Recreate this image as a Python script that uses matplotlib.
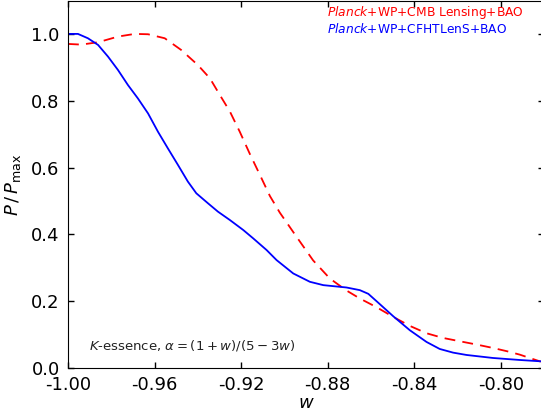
import numpy as np
import matplotlib
matplotlib.use('Agg')
import matplotlib.pyplot as plt

# values
w_lens = [-1.000, -0.9939, -0.9861, -0.9769, -0.9692, -0.9630, -0.9553, -0.9477,
          -0.9400, -0.9344, -0.9298, -0.9252, -0.9206, -0.9159, -0.9113, -0.9067,
          -0.9021, -0.8944, -0.8867, -0.8790, -0.8713, -0.8651, -0.8574, -0.8497,
          -0.8420, -0.8343, -0.8267, -0.8189, -0.8110, -0.8036, -0.7970, -0.7912,
          -0.7815]
p_lens = [0.970, 0.968, 0.975, 0.992, 1.000, 0.999, 0.987, 0.952,
          0.907, 0.867, 0.817, 0.768, 0.707, 0.640, 0.578, 0.515,
          0.465, 0.393, 0.322, 0.268, 0.232, 0.208, 0.182, 0.153,
          0.126, 0.104, 0.090, 0.080, 0.070, 0.060, 0.050, 0.040,
          0.019]

w_cfht = [-1.000, -0.9954, -0.9908, -0.9861, -0.9815, -0.9769, -0.9723, -0.9677,
          -0.9630, -0.9584, -0.9538, -0.9492, -0.9446, -0.9407, -0.9353, -0.9307,
          -0.9252, -0.9190, -0.9144, -0.9082, -0.9036, -0.8959, -0.8882, -0.8820,
          -0.8713, -0.8651, -0.8612, -0.8574, -0.8497, -0.8420, -0.8343, -0.8282,
          -0.8220, -0.8158, -0.8036, -0.7912, -0.7815]
p_cfht = [1.000, 1.000, 0.987, 0.967, 0.932, 0.892, 0.847, 0.807,
          0.762, 0.707, 0.657, 0.608, 0.558, 0.523, 0.493, 0.468,
          0.443, 0.413, 0.388, 0.353, 0.323, 0.283, 0.258, 0.248,
          0.241, 0.233, 0.222, 0.200, 0.155, 0.113, 0.078, 0.057,
          0.046, 0.039, 0.030, 0.024, 0.020]

xticks = [-1.00, -0.96, -0.92, -0.88, -0.84, -0.80]
yticks = [0.0, 0.2, 0.4, 0.6, 0.8, 1.0]

lab_lens = r'$Planck$+WP+CMB Lensing+BAO'
lab_cfht = r'$Planck$+WP+CFHTLenS+BAO'

plt.rcParams['mathtext.fontset'] = 'dejavusans'

fig = plt.figure(figsize=(5.41, 4.12), dpi=100)
ax = fig.add_axes([68/541, 44/412, 476/541, 367.5/412])

ax.plot(w_lens, p_lens, color='red', ls=(0, (6, 4)), lw=1.3, label=lab_lens)
ax.plot(w_cfht, p_cfht, color='blue', ls='-', lw=1.3, label=lab_cfht)

ax.set_xlim(-1.0, -0.78)
ax.set_ylim(0, 1.1)
ax.set_xticks(xticks)
ax.set_xticklabels(['%.2f' % t for t in xticks])
ax.set_yticks(yticks)
ax.set_yticklabels(['%.1f' % t for t in yticks])
ax.tick_params(direction='in', top=True, right=True, length=4, width=1,
               labelsize=13, pad=6)

ax.set_xlabel(r'$w$', fontsize=13, labelpad=0)
ax.set_ylabel(r'$P\,/\,P_{\rm max}$', fontsize=13, labelpad=6)

leg = ax.legend(loc='upper right', frameon=False, handlelength=0, handletextpad=0,
                fontsize=8.8, borderaxespad=0.0, labelspacing=0.08,
                bbox_to_anchor=(0.968, 1.003))
for h in leg.legend_handles:
    h.set_visible(False)
for t, c in zip(leg.get_texts(), ['red', 'blue']):
    t.set_color(c)

ax.text(0.045, 0.06, r'$K$-essence, $\alpha=(1+w)/(5-3w)$', transform=ax.transAxes,
        fontsize=9.5, ha='left', va='center', color='#222222')

fig.savefig('out.png', dpi=100)
